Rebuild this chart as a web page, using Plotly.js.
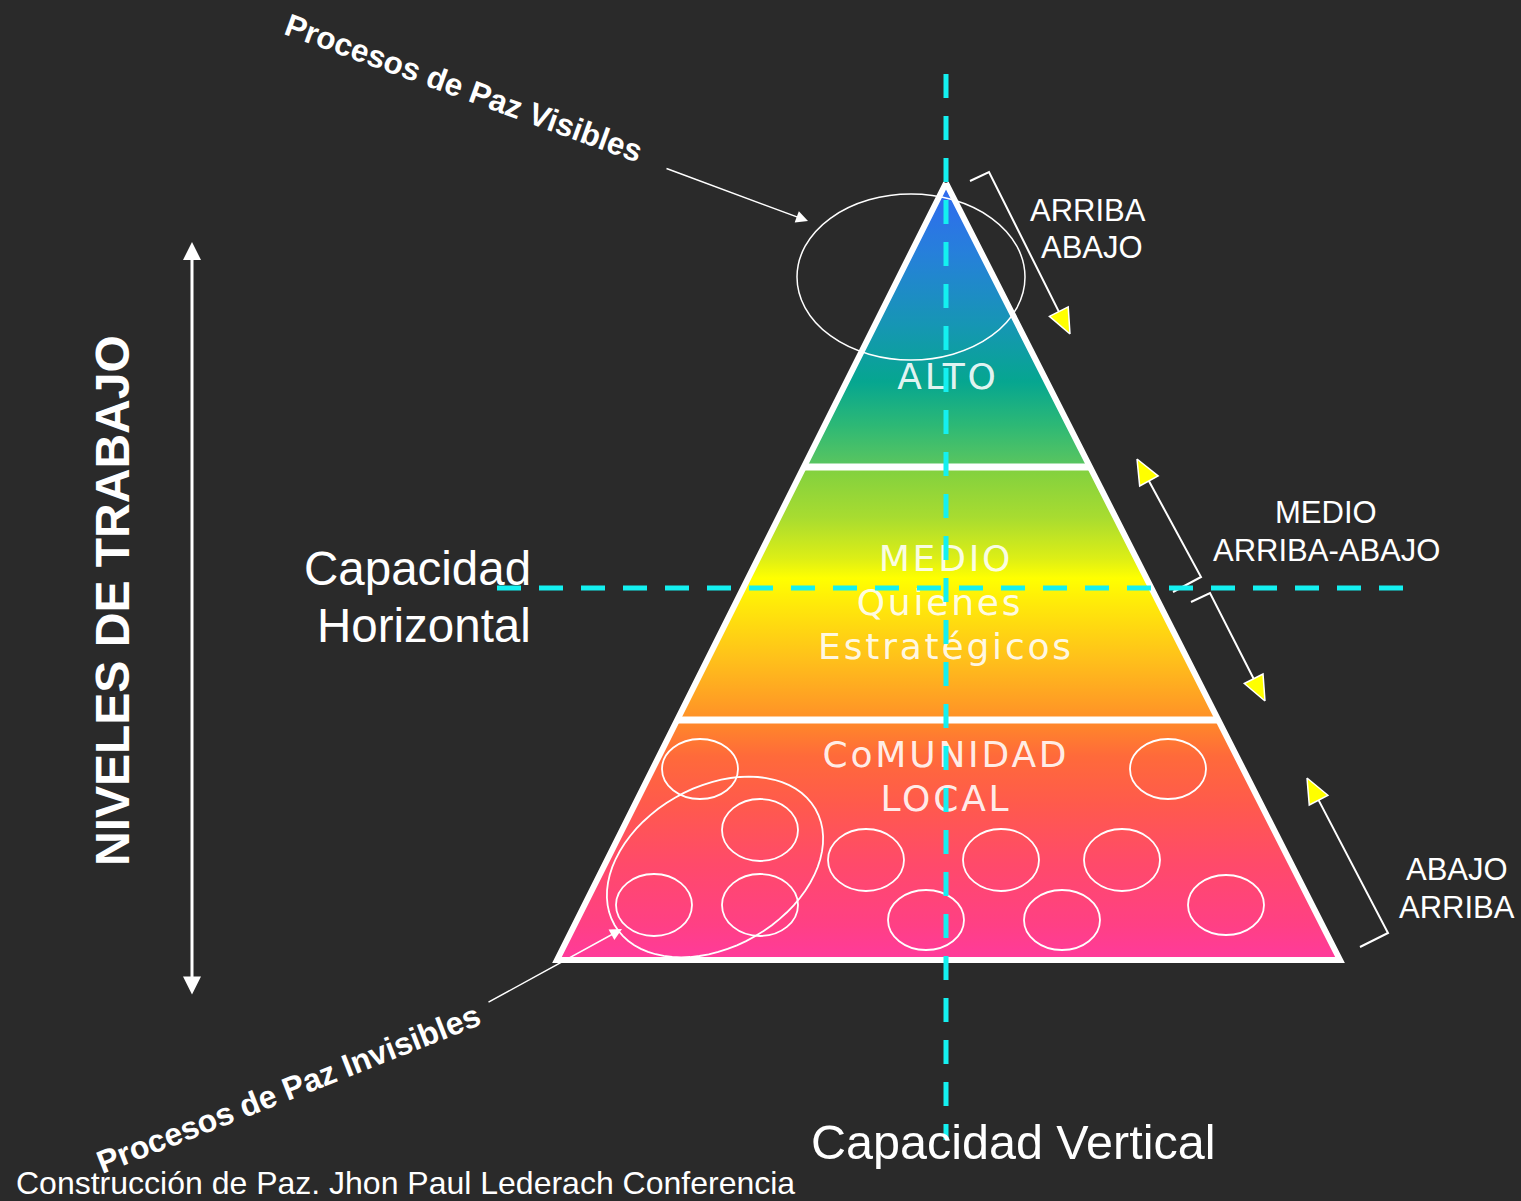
<!DOCTYPE html>
<html>
<head>
<meta charset="utf-8">
<script src="https://cdn.plot.ly/plotly-3.0.1.min.js"></script>
<style>
html,body{margin:0;padding:0;background:#2a2a2a;}
#chart{width:1521px;height:1201px;}
.js-plotly-plot .scatterlayer .textpoint text{letter-spacing:2.8px;}
</style>
</head>
<body>
<div id="chart"></div>
<script>
// ---------- data (diagram coordinates, pixel-like units) ----------
const apexXY = [946, 183];
const baseY = 960;
const baseLeftX = 557;
const baseRightX = 1340;
const bandTopY = [183, 467, 720];
const bandBottomY = [467, 720, 960];
const bandColors = [
  [[0,'#3168f2'],[0.25,'#2680da'],[0.5,'#1696b4'],[0.7,'#06a690'],[0.85,'#2cb876'],[1,'#5cc65e']],
  [[0,'#80d040'],[0.2,'#a8dc30'],[0.36,'#dcee16'],[0.44,'#ffff00'],[0.55,'#ffe80a'],[0.75,'#ffc21a'],[1,'#ff9028']],
  [[0,'#ff8a28'],[0.15,'#ff6a3a'],[0.35,'#ff5a4c'],[0.6,'#ff4a6a'],[0.85,'#ff4084'],[1,'#ff3a9c']]
];
const bandLabels = ['ALTO', 'MEDIO', 'Quienes', 'Estratégicos', 'CoMUNIDAD', 'LOCAL'];
const bandLabelX = [948, 946, 940, 946, 946, 946];
const bandLabelY = [380, 562, 606, 650, 758, 802];

const circleCx = [700, 760, 654, 760, 866, 926, 1001, 1122, 1062, 1168, 1226];
const circleCy = [769, 830, 905, 905, 860, 920, 860, 860, 920, 769, 905];
const circleRx = [38, 38, 38, 38, 38, 38, 38, 38, 38, 38, 38];
const circleRy = [30, 31, 31, 31, 31, 30, 31, 31, 30, 30, 30];

const topEllipse = {cx: 911, cy: 277, rx: 114, ry: 83};
const groupEllipse = {cx: 715, cy: 867, a: 116, b: 80, angleDeg: -30};

const vDashX = 946, vDashY = [74, 1140];
const hDashY = 588, hDashX = [497, 1404];

const yArrowX = [[970, 989, 1070], [1173, 1201, 1137], [1191, 1210, 1265], [1360, 1388, 1307]];
const yArrowY = [[181, 172, 334], [592, 577, 459], [602, 593, 701], [947, 933, 778]];

const sideLabels = ['ARRIBA', 'ABAJO', 'MEDIO', 'ARRIBA-ABAJO', 'ABAJO', 'ARRIBA'];
const sideLabelX = [1088, 1092, 1326, 1326, 1457, 1457];
const sideLabelY = [210, 247, 512, 550, 869, 907];

const whiteArrowTail = [[665, 168], [487, 1003]];
const whiteArrowHead = [[808, 221], [622, 929]];
const levelArrowX = 192, levelArrowY = [242, 996];

// ---------- helpers ----------
function edgeX(y, bx) { return apexXY[0] + (y - apexXY[1]) / (baseY - apexXY[1]) * (bx - apexXY[0]); }

const traces = [];
for (let i = 0; i < 3; i++) {
  const t = bandTopY[i], b = bandBottomY[i];
  traces.push({
    type: 'scatter', mode: 'lines', hoverinfo: 'skip', showlegend: false,
    x: [edgeX(t, baseLeftX), edgeX(t, baseRightX), edgeX(b, baseRightX), edgeX(b, baseLeftX), edgeX(t, baseLeftX)],
    y: [t, t, b, b, t],
    fill: 'toself', line: {width: 0},
    fillgradient: {type: 'vertical', start: t, stop: b, colorscale: bandColors[i]}
  });
}
traces.push({
  type: 'scatter', mode: 'lines', hoverinfo: 'skip', showlegend: false,
  x: [apexXY[0], baseRightX, baseLeftX, apexXY[0]], y: [apexXY[1], baseY, baseY, apexXY[1]],
  line: {color: '#ffffff', width: 6, shape: 'linear'}
});
for (let i = 1; i < 3; i++) {
  const y = bandTopY[i];
  traces.push({
    type: 'scatter', mode: 'lines', hoverinfo: 'skip', showlegend: false,
    x: [edgeX(y, baseLeftX), edgeX(y, baseRightX)], y: [y, y],
    line: {color: '#ffffff', width: 7}
  });
}
traces.push({
  type: 'scatter', mode: 'text', hoverinfo: 'skip', showlegend: false,
  x: bandLabelX, y: bandLabelY, text: bandLabels,
  textposition: 'middle center',
  textfont: {family: 'DejaVu Sans, sans-serif', size: 36, color: 'rgba(255,255,255,0.9)', weight: 400}
});
for (let i = 0; i < yArrowX.length; i++) {
  const xs = yArrowX[i], ys = yArrowY[i];
  const n = xs.length;
  const tx = xs[n - 1], ty = ys[n - 1];
  let dx = tx - xs[n - 2], dy = ty - ys[n - 2];
  const len = Math.hypot(dx, dy); dx /= len; dy /= len;
  const L = 25, W = 10.5;
  const bx = tx - dx * L, by = ty - dy * L;
  traces.push({
    type: 'scatter', mode: 'lines', hoverinfo: 'skip', showlegend: false,
    x: xs.slice(0, n - 1).concat([bx]), y: ys.slice(0, n - 1).concat([by]),
    line: {color: '#ffffff', width: 2}
  });
  traces.push({
    type: 'scatter', mode: 'lines', hoverinfo: 'skip', showlegend: false,
    x: [tx, bx - dy * W, bx + dy * W, tx], y: [ty, by + dx * W, by - dx * W, ty],
    fill: 'toself', fillcolor: '#ffff00', line: {color: '#ffffff', width: 1.5}
  });
}

const shapes = [];
shapes.push({type: 'circle', xref: 'x', yref: 'y', layer: 'above',
  x0: topEllipse.cx - topEllipse.rx, x1: topEllipse.cx + topEllipse.rx,
  y0: topEllipse.cy - topEllipse.ry, y1: topEllipse.cy + topEllipse.ry,
  line: {color: '#ffffff', width: 1.5}});
for (let i = 0; i < circleCx.length; i++) {
  shapes.push({type: 'circle', xref: 'x', yref: 'y', layer: 'above',
    x0: circleCx[i] - circleRx[i], x1: circleCx[i] + circleRx[i],
    y0: circleCy[i] - circleRy[i], y1: circleCy[i] + circleRy[i],
    line: {color: '#ffffff', width: 1.8}});
}
(function () {
  const g = groupEllipse, th = g.angleDeg * Math.PI / 180;
  let p = '';
  for (let k = 0; k <= 72; k++) {
    const t = k / 72 * 2 * Math.PI;
    const ex = g.a * Math.cos(t), ey = g.b * Math.sin(t);
    const x = g.cx + ex * Math.cos(th) - ey * Math.sin(th);
    const y = g.cy + ex * Math.sin(th) + ey * Math.cos(th);
    p += (k === 0 ? 'M' : 'L') + x.toFixed(2) + ',' + y.toFixed(2);
  }
  shapes.push({type: 'path', xref: 'x', yref: 'y', layer: 'above', path: p + 'Z',
    line: {color: '#ffffff', width: 1.8}});
})();
shapes.push({type: 'line', xref: 'x', yref: 'y', layer: 'above',
  x0: vDashX, x1: vDashX, y0: vDashY[0], y1: vDashY[1],
  line: {color: '#14f0f0', width: 5, dash: '24px,18px'}});
shapes.push({type: 'line', xref: 'x', yref: 'y', layer: 'above',
  x0: hDashX[0], x1: hDashX[1], y0: hDashY, y1: hDashY,
  line: {color: '#14f0f0', width: 5, dash: '24px,18px'}});

const AR = 'Liberation Sans, Arial, sans-serif';
const ann = [];
function txt(text, x, y, size, opts) {
  ann.push(Object.assign({text: text, x: x, y: y, xref: 'x', yref: 'y', showarrow: false,
    xanchor: 'center', yanchor: 'middle',
    font: {family: AR, size: size, color: '#ffffff'}}, opts || {}));
}
txt('Capacidad', 533, 568, 47.5, {xanchor: 'right'});
txt('Horizontal', 533, 625, 47.5, {xanchor: 'right'});
txt('Capacidad Vertical', 1013, 1142, 48.5);
for (let i = 0; i < sideLabels.length; i++) txt(sideLabels[i], sideLabelX[i], sideLabelY[i], 31);
txt('Construcción de Paz. Jhon Paul Lederach Conferencia', 14, 1183, 32, {xanchor: 'left'});
txt('<b>NIVELES DE TRABAJO</b>', 112, 601, 48, {textangle: -90});
txt('<b>Procesos de Paz Visibles</b>', 464, 88, 31.5, {textangle: 20});
txt('<b>Procesos de Paz Invisibles</b>', 288, 1089, 32, {textangle: -21.5});
for (let i = 0; i < whiteArrowTail.length; i++) {
  ann.push({text: '', x: whiteArrowHead[i][0], y: whiteArrowHead[i][1], ax: whiteArrowTail[i][0], ay: whiteArrowTail[i][1],
    xref: 'x', yref: 'y', axref: 'x', ayref: 'y', showarrow: true,
    arrowhead: 2, arrowsize: 1.6, arrowwidth: 1.5, arrowcolor: '#ffffff'});
}
ann.push({text: '', x: levelArrowX, y: levelArrowY[0], ax: levelArrowX, ay: levelArrowY[1],
  xref: 'x', yref: 'y', axref: 'x', ayref: 'y', showarrow: true,
  arrowhead: 2, startarrowhead: 2, arrowside: 'end+start', arrowsize: 1.2, startarrowsize: 1.2,
  arrowwidth: 3, arrowcolor: '#ffffff'});

const layout = {
  width: 1521, height: 1201,
  margin: {l: 0, r: 0, t: 0, b: 0, pad: 0},
  paper_bgcolor: '#2a2a2a', plot_bgcolor: '#2a2a2a',
  xaxis: {range: [0, 1521], visible: false, fixedrange: true},
  yaxis: {range: [1201, 0], visible: false, fixedrange: true},
  showlegend: false,
  shapes: shapes, annotations: ann
};
Plotly.newPlot('chart', traces, layout, {displayModeBar: false, staticPlot: true});
</script>
</body>
</html>
